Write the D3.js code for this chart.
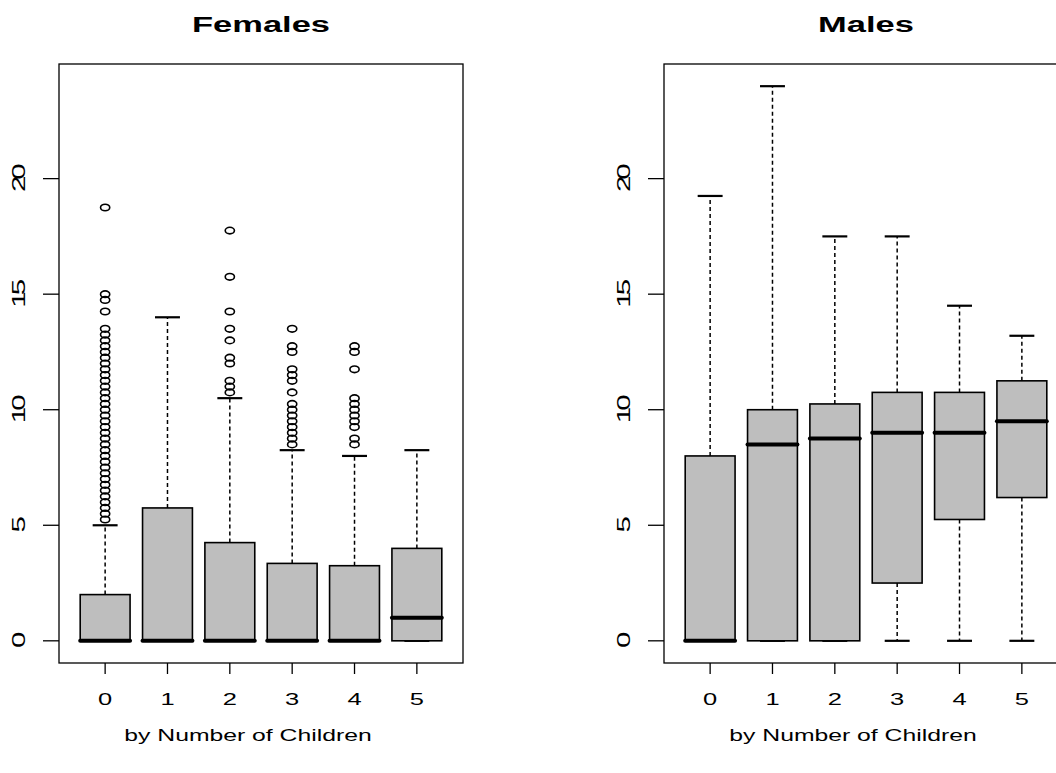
<!DOCTYPE html>
<html>
<head>
<meta charset="utf-8">
<script src="https://cdn.jsdelivr.net/npm/d3@7/dist/d3.min.js"></script>
<style>
  body { margin: 0; background: #fff; }
  text { font-family: "Liberation Sans", Arial, sans-serif; fill: #000; }
</style>
</head>
<body>
<div id="chart"></div>
<script>
// number of children groups
var categories = ["0", "1", "2", "3", "4", "5"];
var yTicks = [0, 5, 10, 15, 20];

// Females: five-number summaries per group
var femaleQ1     = [0, 0, 0, 0, 0, 0];
var femaleMedian = [0, 0, 0, 0, 0, 1];
var femaleQ3     = [2, 5.75, 4.25, 3.35, 3.25, 4];
var femaleLow    = [0, 0, 0, 0, 0, 0];
var femaleHigh   = [5, 14, 10.5, 8.25, 8, 8.25];
var femaleOutliers = [
    [5.25, 5.5, 5.75, 6, 6.25, 6.5, 6.75, 7, 7.25, 7.5, 7.75, 8, 8.25, 8.5, 8.75, 9,
     9.25, 9.5, 9.75, 10, 10.25, 10.5, 10.75, 11, 11.25, 11.5, 11.75, 12, 12.25, 12.5,
     12.75, 13, 13.25, 13.5, 14.25, 14.75, 15, 18.75],
    [],
    [10.75, 11, 11.25, 12, 12.25, 13, 13.5, 14.25, 15.75, 17.75],
    [8.5, 8.75, 9, 9.25, 9.5, 9.75, 10, 10.25, 10.75, 11.25, 11.5, 11.75, 12.5, 12.75, 13.5],
    [8.5, 8.75, 9.25, 9.5, 9.75, 10, 10.25, 10.5, 11.75, 12.5, 12.75],
    []
];

// Males
var maleQ1     = [0, 0, 0, 2.5, 5.25, 6.2];
var maleMedian = [0, 8.5, 8.75, 9, 9, 9.5];
var maleQ3     = [8, 10, 10.25, 10.75, 10.75, 11.25];
var maleLow    = [0, 0, 0, 0, 0, 0];
var maleHigh   = [19.25, 24, 17.5, 17.5, 14.5, 13.2];
var maleOutliers = [[], [], [], [], [], []];

var frame_width  = 1056,
    frame_height = 773,
    plot_top     = 64,
    plot_bottom  = 663,
    plot_width   = 404,
    sx           = 1.5;   // the picture is stretched sideways

var svg = d3.select("#chart").append("svg")
    .attr("width", frame_width)
    .attr("height", frame_height);

svg.append("rect")
    .attr("width", frame_width)
    .attr("height", frame_height)
    .attr("fill", "#fff");

var y = d3.scaleLinear()
    .domain([-0.96, 24.96])
    .range([plot_bottom, plot_top]);

function drawPanel(left, title, q1, med, q3, low, high, outliers) {
    var x = d3.scaleLinear()
        .domain([0.26, 6.74])
        .range([left, left + plot_width]);
    var g = svg.append("g");
    var cx = left + plot_width / 2;

    // boxes
    categories.forEach(function(c, i) {
        var k = i + 1;
        // whiskers
        if (high[i] > q3[i]) {
            g.append("line")
                .attr("x1", x(k)).attr("x2", x(k))
                .attr("y1", y(q3[i])).attr("y2", y(high[i]))
                .attr("stroke", "#000").attr("stroke-width", 1.5)
                .attr("stroke-dasharray", "4,3");
        }
        if (low[i] < q1[i]) {
            g.append("line")
                .attr("x1", x(k)).attr("x2", x(k))
                .attr("y1", y(q1[i])).attr("y2", y(low[i]))
                .attr("stroke", "#000").attr("stroke-width", 1.5)
                .attr("stroke-dasharray", "4,3");
        }
        // staples
        [high[i], low[i]].forEach(function(v) {
            g.append("line")
                .attr("x1", x(k - 0.2)).attr("x2", x(k + 0.2))
                .attr("y1", y(v)).attr("y2", y(v))
                .attr("stroke", "#000").attr("stroke-width", 2.2);
        });
        g.append("rect")
            .attr("x", x(k - 0.4))
            .attr("width", x(k + 0.4) - x(k - 0.4))
            .attr("y", y(q3[i]))
            .attr("height", y(q1[i]) - y(q3[i]))
            .attr("fill", "#bebebe")
            .attr("stroke", "#000")
            .attr("stroke-width", 1.6);
        g.append("line")
            .attr("x1", x(k - 0.4)).attr("x2", x(k + 0.4))
            .attr("y1", y(med[i])).attr("y2", y(med[i]))
            .attr("stroke", "#000").attr("stroke-width", 4)
            .attr("stroke-linecap", "round");
        g.selectAll(null)
            .data(outliers[i])
            .enter().append("ellipse")
            .attr("cx", x(k))
            .attr("cy", function(d) { return y(d); })
            .attr("rx", 4.6)
            .attr("ry", 3.3)
            .attr("fill", "none")
            .attr("stroke", "#000")
            .attr("stroke-width", 1.6);
    });

    // frame
    g.append("rect")
        .attr("x", left).attr("y", plot_top)
        .attr("width", plot_width).attr("height", plot_bottom - plot_top)
        .attr("fill", "none").attr("stroke", "#000").attr("stroke-width", 1.3);

    // x axis
    categories.forEach(function(c, i) {
        g.append("line")
            .attr("x1", x(i + 1)).attr("x2", x(i + 1))
            .attr("y1", plot_bottom).attr("y2", plot_bottom + 11)
            .attr("stroke", "#000").attr("stroke-width", 1.3);
        g.append("text")
            .attr("text-anchor", "middle")
            .attr("transform", "translate(" + x(i + 1) + "," + (plot_bottom + 42) + ") scale(" + sx + ",1)")
            .style("font-size", "17px")
            .text(c);
    });

    // y axis
    yTicks.forEach(function(t) {
        g.append("line")
            .attr("x1", left - 16).attr("x2", left)
            .attr("y1", y(t)).attr("y2", y(t))
            .attr("stroke", "#000").attr("stroke-width", 1.3);
        g.append("text")
            .attr("text-anchor", "middle")
            .attr("transform", "translate(" + (left - 34) + "," + (y(t) + 1) + ") rotate(-90) scale(1.55,1)")
            .style("font-size", "19px")
            .style("letter-spacing", "-2.5px")
            .text(t);
    });

    g.append("text")
        .attr("text-anchor", "middle")
        .attr("transform", "translate(" + cx + ",32) scale(" + sx + ",1)")
        .style("font-size", "23px")
        .style("font-weight", "bold")
        .text(title);

    g.append("text")
        .attr("text-anchor", "middle")
        .attr("transform", "translate(" + (cx - 13) + ",741) scale(" + sx + ",1)")
        .style("font-size", "16.5px")
        .text("by Number of Children");
}

drawPanel(59, "Females", femaleQ1, femaleMedian, femaleQ3, femaleLow, femaleHigh, femaleOutliers);
drawPanel(664, "Males", maleQ1, maleMedian, maleQ3, maleLow, maleHigh, maleOutliers);
</script>
</body>
</html>
